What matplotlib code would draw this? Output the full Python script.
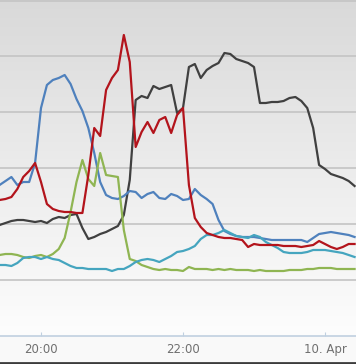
import numpy as np
import matplotlib
matplotlib.use("Agg")
import matplotlib.pyplot as plt

# minutes relative to 20:00 on 9 Apr (5-minute samples)
minutes = list(range(-35, 270, 5))

red = [136, 137, 139, 147, 159, 165, 173, 154, 132, 127, 125, 124, 124, 123, 123,
       161, 208, 200, 246, 258, 266, 301, 274, 189, 204, 214, 203, 216, 219, 203,
       221, 228, 151, 118, 109, 103, 101, 99, 98, 98, 97, 96, 89, 92, 91, 91,
       91, 91, 90, 90, 90, 89, 90, 91, 95, 92, 89, 87, 89, 92, 92]
blue = [151, 155, 159, 151, 154, 154, 173, 228, 251, 256, 258, 261, 252, 237, 225,
        208, 183, 154, 141, 138, 137, 140, 145, 144, 138, 142, 144, 138, 137, 142,
        140, 136, 137, 147, 141, 137, 132, 116, 105, 102, 100, 99, 99, 99, 98, 97,
        96, 96, 96, 96, 96, 96, 94, 98, 102, 103, 104, 103, 102, 101, 99]
gray = [111, 113, 115, 116, 116, 115, 114, 115, 113, 117, 119, 118, 121, 122, 108,
        97, 99, 102, 104, 107, 110, 121, 156, 236, 240, 238, 250, 247, 249, 251,
        223, 228, 269, 272, 258, 266, 270, 273, 283, 282, 277, 275, 273, 269, 233,
        233, 234, 234, 235, 238, 239, 235, 228, 208, 171, 167, 162, 160, 158, 155, 150]
green = [81, 82, 82, 81, 79, 78, 80, 81, 79, 82, 87, 98, 124, 154, 176,
         157, 150, 183, 161, 160, 159, 106, 77, 75, 71, 69, 67, 66, 67, 66,
         66, 65, 69, 67, 67, 67, 66, 67, 66, 67, 66, 66, 66, 65, 66, 65,
         65, 65, 65, 66, 66, 66, 67, 67, 68, 68, 68, 67, 67, 67, 67]
teal = [71, 71, 70, 73, 78, 79, 79, 77, 79, 77, 76, 73, 70, 68, 68,
        67, 67, 67, 67, 65, 67, 67, 70, 74, 76, 77, 76, 74, 77, 80,
        84, 85, 87, 90, 97, 101, 101, 103, 106, 103, 100, 99, 98, 101, 99, 94,
        91, 88, 84, 83, 83, 83, 84, 86, 86, 86, 85, 84, 83, 81, 79]

tick_pos = [0, 120, 240]
tick_labels = ["20:00", "22:00", "10. Apr"]

W, H = 356, 364
fig = plt.figure(figsize=(W / 100, H / 100), dpi=100)
fig.patch.set_facecolor("#f9f9f9")

axis_px = 336
ax = fig.add_axes([0, (H - axis_px) / H, 1, axis_px / H])
x0 = -41 * 60 / 71
x1 = (W - 41) * 60 / 71
ax.set_xlim(x0, x1)
ax.set_ylim(0, 336)

# vertical gradient background
grad = np.linspace(0, 1, 256).reshape(-1, 1)
from matplotlib.colors import LinearSegmentedColormap
cmap = LinearSegmentedColormap.from_list("bg", ["#fdfdfd", "#ececec", "#d9d9d9"])
ax.imshow(grad, extent=[x0, x1, 0, 336], aspect="auto", cmap=cmap,
          origin="lower", zorder=0)

for gy in [56, 112, 168, 224, 280, 335]:
    ax.axhline(gy, color="#c4c4c4", lw=1.2, zorder=1)

lw = 1.6
ax.plot(minutes, gray, color="#404040", lw=lw, zorder=3, solid_joinstyle="round")
ax.plot(minutes, blue, color="#4f81bd", lw=lw, zorder=4, solid_joinstyle="round")
ax.plot(minutes, red, color="#b3141c", lw=lw, zorder=5, solid_joinstyle="round")
ax.plot(minutes, green, color="#8fb552", lw=lw, zorder=4, solid_joinstyle="round")
ax.plot(minutes, teal, color="#45a5bf", lw=lw, zorder=4, solid_joinstyle="round")

for s in ["top", "left", "right"]:
    ax.spines[s].set_visible(False)
ax.spines["bottom"].set_color("#c0d0e0")
ax.spines["bottom"].set_linewidth(1.2)
ax.set_yticks([])
ax.set_xticks(tick_pos)
ax.set_xticklabels(tick_labels)
ax.tick_params(axis="x", direction="in", length=3, color="#c0d0e0",
               labelsize=8.5, labelcolor="#707070", pad=5)

# dark bottom edge
fig.add_artist(plt.Line2D([0, 1], [1.2 / H, 1.2 / H], color="#3c3c3c", lw=2))

fig.savefig("out.png", dpi=100, facecolor=fig.get_facecolor())
